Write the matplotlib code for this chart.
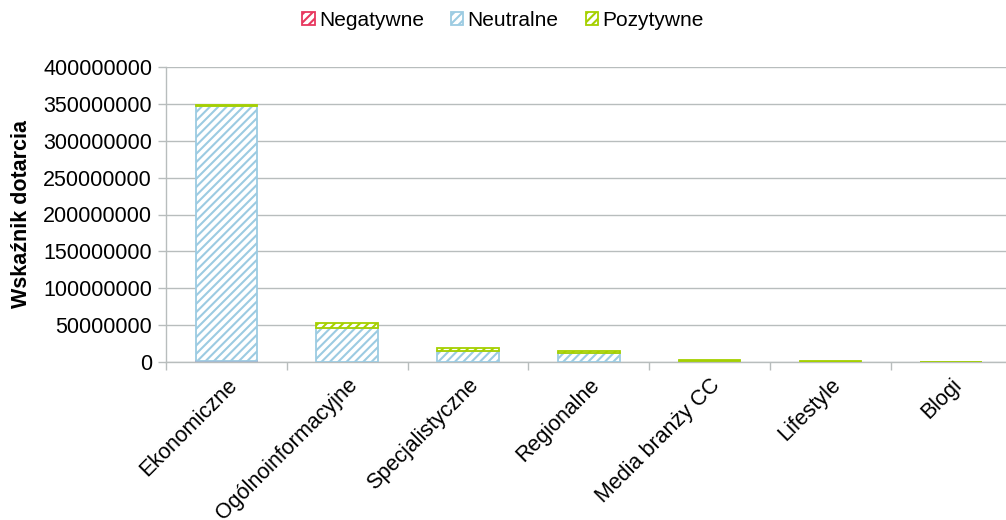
import matplotlib.pyplot as plt
import numpy as np

plt.rcParams['font.family'] = ['Liberation Sans', 'DejaVu Sans']
plt.rcParams['hatch.linewidth'] = 1.5

categories = ['Ekonomiczne', 'Ogólnoinformacyjne', 'Specjalistyczne', 'Regionalne',
              'Media branży CC', 'Lifestyle', 'Blogi']
negatywne = [1.0e6, 0.5e6, 0.2e6, 0.2e6, 0.1e6, 0.05e6, 0.05e6]
neutralne = [345.5e6, 46.0e6, 15.0e6, 12.0e6, 1.0e6, 0.3e6, 0.4e6]
pozytywne = [2.5e6, 6.0e6, 3.5e6, 3.0e6, 1.6e6, 0.7e6, 0.1e6]

c_neg = '#e8385f'
c_neu = '#9ccbe2'
c_pos = '#a5d000'
c_grid = '#b8bdbd'

fig = plt.figure(figsize=(10.06, 5.2), dpi=100)
# plot area runs past the right edge of the picture, as in the original
ax = fig.add_axes([166/1006, 1 - 362/520, (1011.6 - 166)/1006, (362 - 67)/520])

x = np.arange(len(categories))
neg = np.array(negatywne)
neu = np.array(neutralne)
pos = np.array(pozytywne)
w = 0.51

b1 = ax.bar(x, neg, w, color='white', edgecolor=c_neg, hatch='////', linewidth=1.3,
            label='Negatywne', zorder=3)
b2 = ax.bar(x, neu, w, bottom=neg, color='white', edgecolor=c_neu, hatch='////',
            linewidth=1.3, label='Neutralne', zorder=3)
b3 = ax.bar(x, pos, w, bottom=neg + neu, color='white', edgecolor=c_pos, hatch='////',
            linewidth=1.3, label='Pozytywne', zorder=3)

ax.set_xlim(-0.5, len(categories) - 0.5)
ax.set_ylim(0, 400000000)
ax.set_yticks(np.arange(0, 400000001, 50000000))
ax.set_yticklabels([str(v) for v in range(0, 400000001, 50000000)], fontsize=15.5)
ax.yaxis.grid(True, color=c_grid, linewidth=1.0, zorder=0)
ax.set_axisbelow(True)

ax.set_xticks(np.arange(-0.5, len(categories), 1.0))
ax.set_xticklabels([])
ax.set_xticks(x, minor=True)
ax.set_xticklabels(categories, minor=True, rotation=45, ha='right', va='top',
                   rotation_mode='anchor', fontsize=15.5)
ax.tick_params(axis='x', which='minor', length=0, pad=9)
ax.tick_params(axis='x', which='major', length=6, color=c_grid, width=1.0)
ax.tick_params(axis='y', length=6, color=c_grid, width=1.0, pad=4)

for s in ['top', 'right']:
    ax.spines[s].set_visible(False)
for s in ['left', 'bottom']:
    ax.spines[s].set_color(c_grid)
    ax.spines[s].set_linewidth(1.0)

ax.set_ylabel('Wskaźnik dotarcia', fontsize=15.5, fontweight='bold', labelpad=8)

fig.legend(handles=[b1, b2, b3], loc='upper center', bbox_to_anchor=(0.5, 1.015),
           ncol=3, frameon=False, fontsize=15, handlelength=0.6, handleheight=0.6,
           handletextpad=0.2, columnspacing=1.3)

fig.savefig('out.png', dpi=100)
